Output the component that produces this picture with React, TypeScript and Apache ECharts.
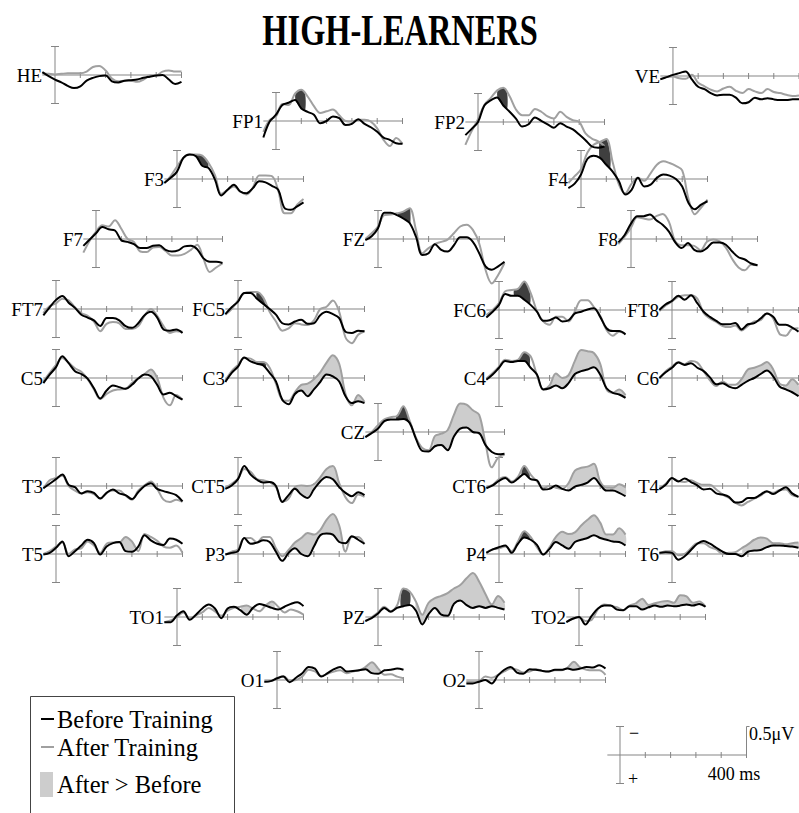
import React, { useEffect, useRef } from "react";
import * as echarts from "echarts";

// Time samples (ms) shared by every waveform
const TIMES = [-50, -25, 0, 25, 50, 75, 100, 125, 150, 175, 200, 225, 250, 275, 300, 325, 350, 375, 400, 425, 450, 475, 500];
const TICKS = [100, 200, 300, 400, 500];
const SCALE_TICKS = [100, 200, 300, 400];

// Amplitudes in microvolts (negative plotted upwards). B = before training, A = after training
const HE_B = [-0.05, 0.02, 0.08, 0.13, 0.19, 0.23, 0.2, 0.1, 0.05, 0.02, 0.01, 0.11, 0.13, 0.1, 0.09, 0.08, 0.05, 0.03, 0.01, 0, 0.08, 0.16, 0.12];
const HE_A = [-0.03, -0.02, -0.01, -0.02, -0.03, -0.03, -0.03, -0.06, -0.14, -0.16, -0.08, 0.06, 0.11, 0.1, 0.1, 0.12, 0.08, 0.01, 0.01, -0.06, -0.08, -0.06, -0.06];
const FP1_B = [0.29, 0.01, -0.11, -0.28, -0.32, -0.37, -0.22, -0.16, -0.11, 0.04, 0, -0.08, -0.05, 0.07, 0.05, -0.03, 0.05, 0.11, 0.19, 0.29, 0.33, 0.39, 0.4];
const FP1_A = [0.19, -0.02, -0.08, -0.3, -0.28, -0.48, -0.55, -0.43, -0.26, -0.14, -0.17, -0.2, -0.1, 0, 0.01, -0.02, -0.02, 0.01, 0.13, 0.33, 0.44, 0.3, 0.4];
const FP2_B = [0.23, 0.12, 0, -0.29, -0.38, -0.43, -0.29, -0.18, -0.06, 0.08, 0.04, -0.08, -0.02, 0.04, 0.1, 0.02, 0.08, 0.13, 0.22, 0.32, 0.43, 0.45, 0.43];
const FP2_A = [0.4, 0.16, -0.05, -0.3, -0.42, -0.55, -0.6, -0.45, -0.22, -0.12, -0.12, -0.23, -0.18, -0.1, -0.06, -0.18, -0.09, -0.03, 0, 0.2, 0.29, 0.34, 0.42];
const VE_B = [0.06, 0.02, -0.02, -0.05, -0.08, 0.06, 0.19, 0.23, 0.3, 0.34, 0.33, 0.33, 0.38, 0.48, 0.46, 0.38, 0.41, 0.39, 0.41, 0.42, 0.42, 0.41, 0.41];
const VE_A = [0.05, 0.02, 0.01, 0.04, 0.05, -0.02, 0.12, 0.18, 0.24, 0.27, 0.22, 0.19, 0.26, 0.3, 0.23, 0.27, 0.3, 0.23, 0.28, 0.3, 0.33, 0.35, 0.34];
const F3_B = [0.07, -0.02, -0.13, -0.37, -0.43, -0.4, -0.23, -0.19, 0.01, 0.29, 0.19, 0.1, 0.22, 0.25, 0.16, 0.04, 0.06, 0.12, 0.19, 0.51, 0.54, 0.48, 0.41];
const F3_A = [0.07, -0.05, -0.22, -0.37, -0.43, -0.43, -0.41, -0.28, -0.07, 0.26, 0.19, 0.13, 0.22, 0.27, 0.15, -0.06, -0.06, -0.05, 0.2, 0.6, 0.6, 0.45, 0.35];
const F4_B = [0.16, 0.08, -0.08, -0.35, -0.41, -0.37, -0.25, -0.13, 0.04, 0.27, 0.19, -0.02, 0.13, 0.1, -0.02, -0.08, -0.06, 0, 0.13, 0.42, 0.53, 0.45, 0.39];
const F4_A = [0.07, -0.05, -0.17, -0.46, -0.6, -0.65, -0.7, -0.3, 0.1, 0.25, 0.08, -0.02, 0.03, -0.1, -0.25, -0.31, -0.28, -0.23, -0.15, 0.35, 0.62, 0.5, 0.36];
const F7_B = [0.12, 0.01, -0.1, -0.21, -0.17, -0.15, 0.02, 0.05, 0.09, 0.16, 0.16, 0.12, 0.11, 0.19, 0.22, 0.2, 0.13, 0.12, 0.18, 0.34, 0.4, 0.4, 0.42];
const F7_A = [0.24, 0.03, -0.13, -0.24, -0.22, -0.33, -0.18, 0, 0.05, 0.22, 0.23, 0.15, 0.14, 0.21, 0.29, 0.29, 0.26, 0.19, 0.1, 0.35, 0.58, 0.5, 0.43];
const FZ_B = [0.02, -0.05, -0.19, -0.46, -0.46, -0.42, -0.36, -0.28, -0.04, 0.28, 0.25, 0.09, 0.19, 0.22, 0.11, -0.03, -0.03, 0.05, 0.25, 0.48, 0.54, 0.48, 0.4];
const FZ_A = [0, -0.1, -0.22, -0.42, -0.43, -0.45, -0.48, -0.54, -0.16, 0.25, 0.16, 0.09, 0.05, 0.01, -0.1, -0.22, -0.25, -0.16, 0.08, 0.54, 0.78, 0.63, 0.42];
const F8_B = [0.06, -0.07, -0.27, -0.4, -0.4, -0.43, -0.33, -0.25, -0.13, 0.06, 0.16, 0.07, 0.19, 0.22, 0.16, 0.06, 0.06, 0.1, 0.22, 0.32, 0.36, 0.43, 0.46];
const F8_A = [0.09, -0.04, -0.2, -0.38, -0.36, -0.34, -0.4, -0.44, -0.3, 0.04, 0.11, 0.11, 0.12, 0.2, 0.05, 0.01, 0.04, 0.15, 0.35, 0.5, 0.55, 0.45, 0.46];
const FT7_B = [0.11, -0.03, -0.16, -0.23, -0.11, -0.02, 0.1, 0.15, 0.2, 0.3, 0.16, 0.16, 0.2, 0.3, 0.33, 0.25, 0.11, 0.05, 0.15, 0.36, 0.38, 0.36, 0.42];
const FT7_A = [0.07, -0.05, -0.1, -0.18, -0.15, -0.03, 0.07, 0.12, 0.22, 0.39, 0.26, 0.23, 0.25, 0.35, 0.35, 0.3, 0.12, 0, 0.12, 0.3, 0.42, 0.39, 0.4];
const FC5_B = [0.09, -0.03, -0.13, -0.28, -0.28, -0.18, -0.09, 0, 0.1, 0.25, 0.27, 0.22, 0.19, 0.26, 0.25, 0.11, 0.05, 0.09, 0.16, 0.4, 0.42, 0.38, 0.39];
const FC5_A = [0.1, 0, -0.15, -0.28, -0.3, -0.3, -0.2, 0.05, 0.22, 0.38, 0.34, 0.25, 0.27, 0.28, 0.2, 0, -0.04, -0.15, 0.05, 0.5, 0.6, 0.45, 0.39];
const FC6_B = [0.13, 0.03, -0.09, -0.28, -0.25, -0.25, -0.18, -0.09, 0.03, 0.19, 0.18, 0.13, 0.2, 0.18, 0.06, 0.03, -0.01, -0.03, 0.12, 0.32, 0.37, 0.37, 0.43];
const FC6_A = [0.09, 0, -0.12, -0.33, -0.35, -0.37, -0.5, -0.3, 0.02, 0.2, 0.26, 0.12, 0.12, 0.2, 0.02, -0.17, -0.17, -0.05, 0.1, 0.35, 0.45, 0.38, 0.42];
const FT8_B = [0, -0.1, -0.16, -0.25, -0.18, -0.26, -0.12, 0.03, 0.12, 0.19, 0.25, 0.25, 0.23, 0.34, 0.25, 0.23, 0.15, 0.06, 0.12, 0.26, 0.26, 0.31, 0.38];
const FT8_A = [0.02, -0.08, -0.15, -0.23, -0.26, -0.26, -0.2, 0.05, 0.15, 0.21, 0.28, 0.3, 0.27, 0.36, 0.28, 0.2, 0.18, 0.06, 0.15, 0.42, 0.45, 0.33, 0.32];
const C5_B = [0.09, -0.06, -0.19, -0.38, -0.26, -0.12, -0.07, 0.01, 0.18, 0.36, 0.22, 0.13, 0.16, 0.19, 0.12, 0.01, -0.06, -0.03, 0.12, 0.29, 0.26, 0.32, 0.38];
const C5_A = [0.06, -0.09, -0.23, -0.35, -0.27, -0.17, -0.11, 0.02, 0.2, 0.37, 0.28, 0.22, 0.2, 0.19, 0.09, 0, -0.07, -0.15, 0, 0.35, 0.48, 0.3, 0.38];
const C3_B = [0.07, -0.09, -0.2, -0.36, -0.29, -0.25, -0.22, -0.09, 0.06, 0.38, 0.46, 0.28, 0.22, 0.32, 0.2, 0.07, -0.06, -0.03, 0.06, 0.32, 0.44, 0.41, 0.44];
const C3_A = [0.04, -0.12, -0.23, -0.35, -0.34, -0.28, -0.28, -0.18, 0.1, 0.38, 0.4, 0.25, 0.12, 0.1, 0.02, -0.1, -0.27, -0.4, -0.25, 0.28, 0.48, 0.3, 0.42];
const C4_B = [0.03, -0.06, -0.18, -0.3, -0.28, -0.3, -0.3, -0.18, -0.06, 0.2, 0.18, 0.13, 0.18, 0.09, -0.07, -0.12, -0.15, -0.19, -0.06, 0.18, 0.26, 0.29, 0.35];
const C4_A = [0.01, -0.09, -0.2, -0.32, -0.3, -0.32, -0.45, -0.38, -0.05, 0.2, 0.13, -0.08, 0, -0.05, -0.3, -0.49, -0.47, -0.44, -0.25, 0.2, 0.26, 0.2, 0.3];
const C6_B = [0, -0.1, -0.18, -0.27, -0.23, -0.26, -0.18, -0.12, -0.01, 0.11, 0.09, 0.15, 0.18, 0.12, 0.05, 0, -0.07, -0.13, -0.03, 0.15, 0.2, 0.25, 0.32];
const C6_A = [0.01, -0.12, -0.2, -0.28, -0.24, -0.3, -0.27, -0.12, 0.04, 0.14, 0.06, 0.12, 0.12, 0.02, -0.15, -0.18, -0.22, -0.28, -0.15, 0.1, 0.13, 0.02, 0.12];
const CZ_B = [0.09, 0.02, -0.06, -0.19, -0.22, -0.22, -0.23, -0.16, 0.12, 0.33, 0.34, 0.25, 0.23, 0.32, 0.08, -0.06, -0.08, 0, 0.02, 0.23, 0.35, 0.39, 0.38];
const CZ_A = [0.09, 0, -0.12, -0.22, -0.26, -0.28, -0.45, -0.2, 0.1, 0.28, 0.32, 0.07, 0.03, -0.03, -0.3, -0.5, -0.48, -0.38, -0.3, 0.2, 0.62, 0.45, 0.4];
const T3_B = [0.04, -0.04, -0.12, -0.2, -0.02, 0.02, 0.13, 0.09, 0.12, 0.22, 0.12, 0.06, 0.13, 0.16, 0.23, 0.11, 0, -0.05, 0.05, 0.09, 0.12, 0.16, 0.27];
const T3_A = [0.05, -0.1, -0.14, -0.18, 0, 0.08, 0.13, 0.11, 0.14, 0.22, 0.12, 0.08, 0.08, 0.17, 0.24, 0.08, -0.01, -0.08, 0.05, 0.24, 0.28, 0.24, 0.28];
const CT5_B = [0.05, -0.01, -0.12, -0.35, -0.2, -0.11, -0.06, -0.07, 0, 0.28, 0.16, 0.05, 0.15, 0.21, 0.06, -0.08, -0.16, -0.12, 0.02, 0.12, 0.18, 0.11, 0.16];
const CT5_A = [0.03, -0.04, -0.13, -0.3, -0.25, -0.12, -0.1, -0.07, 0.02, 0.27, 0.22, 0.02, -0.01, 0, -0.03, -0.15, -0.3, -0.35, -0.05, 0.2, 0.3, 0.15, 0.19];
const CT6_B = [0.04, -0.01, -0.09, -0.14, -0.06, -0.13, -0.21, -0.12, -0.1, 0.06, 0.05, -0.01, 0.05, 0.08, 0.01, -0.02, -0.06, -0.14, -0.02, 0.08, 0.08, 0.12, 0.18];
const CT6_A = [0.02, -0.02, -0.12, -0.16, -0.08, -0.16, -0.35, -0.2, -0.08, 0.04, 0, 0.03, 0.05, -0.05, -0.27, -0.32, -0.34, -0.39, -0.08, 0.03, 0.03, -0.03, 0.02];
const T4_B = [0.06, -0.02, -0.14, -0.08, -0.13, -0.07, -0.01, 0.06, 0.05, 0.13, 0.15, 0.19, 0.29, 0.28, 0.21, 0.21, 0.15, 0.09, 0.14, 0.08, 0.02, 0.13, 0.19];
const T4_A = [0.04, -0.04, -0.13, -0.09, -0.07, -0.1, -0.05, -0.02, -0.02, 0.06, 0.15, 0.21, 0.29, 0.34, 0.28, 0.22, 0.17, 0.1, 0.12, 0.07, 0.06, 0.16, 0.19];
const T5_B = [0.01, -0.02, -0.11, -0.22, 0.04, -0.05, -0.15, -0.25, -0.19, 0.01, -0.13, -0.19, -0.21, -0.05, -0.04, -0.13, -0.33, -0.24, -0.18, -0.16, -0.27, -0.25, -0.18];
const T5_A = [0, -0.05, -0.13, -0.2, 0, -0.08, -0.1, -0.22, -0.15, -0.02, -0.18, -0.2, -0.2, -0.3, -0.22, -0.05, -0.35, -0.3, -0.23, -0.13, -0.11, -0.15, -0.02];
const P3_B = [0.01, -0.02, -0.05, -0.28, -0.18, -0.2, -0.24, -0.21, -0.04, 0.12, -0.02, -0.1, 0, 0.04, -0.13, -0.33, -0.36, -0.34, -0.21, -0.19, -0.31, -0.25, -0.18];
const P3_A = [0.01, -0.04, -0.08, -0.28, -0.28, -0.2, -0.3, -0.3, -0.1, 0.04, -0.07, -0.2, -0.28, -0.37, -0.34, -0.42, -0.6, -0.7, -0.5, -0.04, -0.3, -0.3, -0.17];
const P4_B = [-0.02, -0.08, -0.12, -0.15, -0.02, -0.18, -0.29, -0.25, -0.16, 0.01, -0.09, -0.21, -0.15, -0.09, -0.21, -0.25, -0.28, -0.33, -0.28, -0.25, -0.22, -0.21, -0.15];
const P4_A = [-0.03, -0.08, -0.1, -0.13, -0.05, -0.22, -0.4, -0.3, -0.12, 0.01, -0.12, -0.3, -0.39, -0.35, -0.38, -0.5, -0.6, -0.68, -0.55, -0.34, -0.34, -0.45, -0.34];
const T6_B = [-0.02, -0.03, -0.02, 0.1, 0.04, -0.07, -0.18, -0.23, -0.18, -0.11, -0.04, 0, 0, 0.04, -0.04, -0.06, -0.07, -0.12, -0.15, -0.15, -0.14, -0.13, -0.11];
const T6_A = [0, -0.05, -0.05, 0.02, 0, -0.1, -0.19, -0.19, -0.12, -0.08, 0, -0.02, -0.03, -0.1, -0.17, -0.25, -0.29, -0.27, -0.19, -0.19, -0.17, -0.19, -0.2];
const TO1_B = [0.09, 0.09, -0.03, -0.1, 0.05, -0.04, -0.15, -0.22, -0.15, 0.02, -0.15, -0.18, -0.12, -0.04, -0.16, -0.23, -0.2, -0.16, -0.13, -0.18, -0.23, -0.26, -0.19];
const TO1_A = [0.09, 0.06, 0, -0.08, 0.02, -0.03, -0.08, -0.16, -0.1, -0.02, -0.11, -0.16, -0.18, -0.2, -0.15, -0.1, -0.2, -0.27, -0.18, -0.08, -0.13, -0.1, -0.04];
const PZ_B = [0.07, 0.02, -0.06, -0.16, -0.09, -0.16, -0.19, -0.21, -0.11, 0.13, -0.05, -0.16, -0.04, -0.02, -0.23, -0.29, -0.21, -0.16, -0.19, -0.16, -0.19, -0.16, -0.13];
const PZ_A = [0.08, 0, -0.08, -0.18, -0.1, -0.2, -0.5, -0.45, -0.27, -0.04, -0.25, -0.33, -0.37, -0.42, -0.5, -0.56, -0.68, -0.77, -0.62, -0.4, -0.22, -0.37, -0.25];
const TO2_B = [0.09, 0.03, 0, 0.13, -0.02, -0.15, -0.2, -0.2, -0.13, -0.12, -0.19, -0.19, -0.13, -0.17, -0.2, -0.18, -0.2, -0.19, -0.2, -0.22, -0.2, -0.23, -0.18];
const TO2_A = [0.09, 0.03, 0, 0.07, 0.05, -0.14, -0.22, -0.2, -0.17, -0.12, -0.2, -0.24, -0.32, -0.21, -0.24, -0.27, -0.28, -0.25, -0.38, -0.36, -0.25, -0.27, -0.18];
const O1_B = [0.03, 0.02, -0.03, -0.06, 0.04, -0.04, -0.12, -0.23, -0.2, -0.06, -0.12, -0.19, -0.23, -0.15, -0.16, -0.17, -0.19, -0.12, -0.11, -0.17, -0.18, -0.2, -0.18];
const O1_A = [0.03, 0.02, -0.02, -0.07, 0.01, 0, -0.06, -0.18, -0.15, -0.07, -0.11, -0.15, -0.17, -0.12, -0.15, -0.17, -0.23, -0.31, -0.2, -0.09, -0.1, -0.06, -0.03];
const O2_B = [0.06, 0.06, 0.03, 0, 0.06, -0.08, -0.18, -0.23, -0.13, -0.11, -0.19, -0.18, -0.16, -0.15, -0.18, -0.18, -0.2, -0.18, -0.2, -0.23, -0.22, -0.26, -0.2];
const O2_A = [0.03, 0.03, 0.02, -0.06, -0.04, -0.09, -0.15, -0.2, -0.18, -0.13, -0.15, -0.19, -0.16, -0.15, -0.17, -0.17, -0.22, -0.32, -0.22, -0.18, -0.17, -0.17, -0.09];

// Time windows (ms) of the shaded differences
const EARLY_WINDOWS: Record<string, number[][]> = {
  FP1: [[78, 115]], FP2: [[78, 115]], F3: [[75, 122]], F4: [[72, 115]], FZ: [[80, 128]],
  FC5: [[75, 110]], C3: [[75, 110]], FC6: [[60, 122]], C4: [[75, 120]], CZ: [[72, 122]],
  CT6: [[90, 120]], P4: [[80, 120]], PZ: [[90, 125]],
};
const LATE_WINDOWS: Record<string, number[][]> = {
  C5: [[350, 410]], C3: [[215, 415], [460, 495]], C4: [[200, 410], [465, 500]], C6: [[260, 410], [440, 500]],
  CZ: [[220, 420]], CT5: [[230, 400]], T5: [[255, 310]], P3: [[190, 415]], CT6: [[270, 400], [440, 500]],
  P4: [[190, 500]], T6: [[280, 410], [440, 500]], TO1: [[255, 300], [340, 385]], PZ: [[150, 500]],
  TO2: [[225, 290], [300, 460]], O1: [[340, 410]], O2: [[340, 400]],
};

// Layout: name, origin (pixel) of each electrode panel, and its waveforms
const PANELS: { name: string; x: number; y: number; b: number[]; a: number[] }[] = [
  { name: "HE", x: 55, y: 75, b: HE_B, a: HE_A },
  { name: "FP1", x: 276, y: 121, b: FP1_B, a: FP1_A },
  { name: "FP2", x: 478, y: 122, b: FP2_B, a: FP2_A },
  { name: "VE", x: 673, y: 76, b: VE_B, a: VE_A },
  { name: "F3", x: 177, y: 179, b: F3_B, a: F3_A },
  { name: "F4", x: 581, y: 179, b: F4_B, a: F4_A },
  { name: "F7", x: 96, y: 239, b: F7_B, a: F7_A },
  { name: "FZ", x: 378, y: 239, b: FZ_B, a: FZ_A },
  { name: "F8", x: 631, y: 239, b: F8_B, a: F8_A },
  { name: "FT7", x: 56, y: 309, b: FT7_B, a: FT7_A },
  { name: "FC5", x: 238, y: 309, b: FC5_B, a: FC5_A },
  { name: "FC6", x: 499, y: 310, b: FC6_B, a: FC6_A },
  { name: "FT8", x: 672, y: 310, b: FT8_B, a: FT8_A },
  { name: "C5", x: 56, y: 378, b: C5_B, a: C5_A },
  { name: "C3", x: 238, y: 378, b: C3_B, a: C3_A },
  { name: "C4", x: 499, y: 378, b: C4_B, a: C4_A },
  { name: "C6", x: 672, y: 378, b: C6_B, a: C6_A },
  { name: "CZ", x: 378, y: 432, b: CZ_B, a: CZ_A },
  { name: "T3", x: 56, y: 486, b: T3_B, a: T3_A },
  { name: "CT5", x: 238, y: 486, b: CT5_B, a: CT5_A },
  { name: "CT6", x: 499, y: 486, b: CT6_B, a: CT6_A },
  { name: "T4", x: 672, y: 486, b: T4_B, a: T4_A },
  { name: "T5", x: 56, y: 554, b: T5_B, a: T5_A },
  { name: "P3", x: 238, y: 554, b: P3_B, a: P3_A },
  { name: "P4", x: 499, y: 554, b: P4_B, a: P4_A },
  { name: "T6", x: 672, y: 554, b: T6_B, a: T6_A },
  { name: "TO1", x: 177, y: 617, b: TO1_B, a: TO1_A },
  { name: "PZ", x: 378, y: 617, b: PZ_B, a: PZ_A },
  { name: "TO2", x: 579, y: 617, b: TO2_B, a: TO2_A },
  { name: "O1", x: 277, y: 680, b: O1_B, a: O1_A },
  { name: "O2", x: 479, y: 680, b: O2_B, a: O2_A },
];
const SCALE_ORIGIN = { x: 620, y: 755 };

const PX_PER_MS = 0.253;
const PX_PER_UV = 57;
const FONT = '"Liberation Serif", "Times New Roman", serif';
const AXIS_COLOR = "#858585";
const BEFORE_COLOR = "#000000";
const AFTER_COLOR = "#a0a0a0";
const LIGHT_FILL = "#cdcdcd";
const DARK_FILL = "#3f3f3f";

function valueAt(arr: number[], t: number) {
  const step = TIMES[1] - TIMES[0];
  let k = Math.floor((t - TIMES[0]) / step);
  k = Math.max(0, Math.min(TIMES.length - 2, k));
  const f = (t - TIMES[k]) / step;
  return arr[k] + (arr[k + 1] - arr[k]) * f;
}

function gridFor(x: number, y: number) {
  return {
    left: x - 50 * PX_PER_MS,
    top: y - PX_PER_UV,
    width: 550 * PX_PER_MS,
    height: 2 * PX_PER_UV,
  };
}

function frameSeries(i: number, isScale: boolean) {
  return {
    type: "custom",
    xAxisIndex: i,
    yAxisIndex: i,
    silent: true,
    z: 1,
    data: [[0, 0]],
    renderItem: (_p: any, api: any) => {
      const st = { stroke: AXIS_COLOR, lineWidth: 1, fill: null };
      const l = api.coord([-50, 0]);
      const r = api.coord([500, 0]);
      const top = api.coord([0, -0.5]);
      const bot = api.coord([0, 0.5]);
      const children: any[] = [
        { type: "line", shape: { x1: l[0], y1: l[1], x2: r[0], y2: r[1] }, style: st },
        { type: "line", shape: { x1: top[0], y1: top[1], x2: bot[0], y2: bot[1] }, style: st },
        { type: "line", shape: { x1: top[0] - 4, y1: top[1], x2: top[0] + 4, y2: top[1] }, style: st },
        { type: "line", shape: { x1: bot[0] - 4, y1: bot[1], x2: bot[0] + 4, y2: bot[1] }, style: st },
      ];
      const ticks = isScale ? SCALE_TICKS : TICKS;
      ticks.forEach((t) => {
        const p = api.coord([t, 0]);
        children.push({ type: "line", shape: { x1: p[0], y1: p[1] - 3, x2: p[0], y2: p[1] + 3 }, style: st });
      });
      if (isScale) {
        const e0 = api.coord([500, -0.5]);
        const e1 = api.coord([500, 0]);
        children.push({ type: "line", shape: { x1: e0[0], y1: e0[1], x2: e1[0], y2: e1[1] + 3 }, style: st });
        children.push({ type: "line", shape: { x1: e0[0], y1: e0[1], x2: e0[0] + 3, y2: e0[1] }, style: st });
      }
      return { type: "group", children };
    },
  };
}

function fillSeries(i: number, before: number[], after: number[], win: number[], color: string) {
  return {
    type: "custom",
    xAxisIndex: i,
    yAxisIndex: i,
    silent: true,
    z: 2,
    data: [[win[0], 0]],
    renderItem: (_p: any, api: any) => {
      const [a, b] = win;
      const ts = [a, ...TIMES.filter((t) => t > a && t < b), b];
      const pts: number[][] = [];
      ts.forEach((t) => pts.push(api.coord([t, valueAt(after, t)])));
      ts.slice().reverse().forEach((t) => pts.push(api.coord([t, valueAt(before, t)])));
      return { type: "polygon", shape: { points: pts, smooth: 0.3 }, style: { fill: color, stroke: null } };
    },
  };
}

function txt(text: string, x: number, y: number, size: number, align = "left", weight = "normal", scaleX = 1) {
  return {
    type: "text",
    x,
    y,
    scaleX,
    silent: true,
    style: {
      text,
      fontSize: size,
      fontFamily: FONT,
      fontWeight: weight,
      fill: "#000",
      align,
      textAlign: align,
      verticalAlign: "middle",
      textVerticalAlign: "middle",
    },
  };
}

function buildOption() {
  const grid: any[] = [];
  const xAxis: any[] = [];
  const yAxis: any[] = [];
  const series: any[] = [];
  const graphic: any[] = [];

  PANELS.forEach((p, i) => {
    grid.push(gridFor(p.x, p.y));
    xAxis.push({ gridIndex: i, type: "value", min: -50, max: 500, show: false });
    yAxis.push({ gridIndex: i, type: "value", min: -1, max: 1, inverse: true, show: false });
    series.push(frameSeries(i, false));
    (LATE_WINDOWS[p.name] || []).forEach((w) => series.push(fillSeries(i, p.b, p.a, w, LIGHT_FILL)));
    (EARLY_WINDOWS[p.name] || []).forEach((w) => series.push(fillSeries(i, p.b, p.a, w, DARK_FILL)));
    series.push({
      type: "line", name: "After Training", xAxisIndex: i, yAxisIndex: i, silent: true, z: 3,
      data: TIMES.map((t, k) => [t, p.a[k]]), smooth: 0.35, showSymbol: false, symbol: "none",
      lineStyle: { color: AFTER_COLOR, width: 2 },
    });
    series.push({
      type: "line", name: "Before Training", xAxisIndex: i, yAxisIndex: i, silent: true, z: 4,
      data: TIMES.map((t, k) => [t, p.b[k]]), smooth: 0.35, showSymbol: false, symbol: "none",
      lineStyle: { color: BEFORE_COLOR, width: 2 },
    });
    graphic.push(txt(p.name, p.x - 13, p.y, 19, "right"));
  });

  // scale bar panel
  const si = PANELS.length;
  grid.push(gridFor(SCALE_ORIGIN.x, SCALE_ORIGIN.y));
  xAxis.push({ gridIndex: si, type: "value", min: -50, max: 500, show: false });
  yAxis.push({ gridIndex: si, type: "value", min: -1, max: 1, inverse: true, show: false });
  series.push(frameSeries(si, true));
  graphic.push(txt("−", 629, 733, 18));
  graphic.push(txt("+", 628, 779, 18));
  graphic.push(txt("0.5μV", 749, 734, 18));
  graphic.push(txt("400 ms", 734, 774, 18, "center"));

  // title
  graphic.push(txt("HIGH-LEARNERS", 400, 30, 45, "center", "bold", 0.72));

  // legend
  graphic.push({ type: "rect", silent: true, shape: { x: 30.5, y: 696.5, width: 204, height: 130 }, style: { fill: "none", stroke: "#444", lineWidth: 1 } });
  graphic.push({ type: "line", silent: true, shape: { x1: 41, y1: 719, x2: 54, y2: 719 }, style: { stroke: BEFORE_COLOR, lineWidth: 2 } });
  graphic.push(txt("Before Training", 57, 719, 24.5));
  graphic.push({ type: "line", silent: true, shape: { x1: 41, y1: 747, x2: 54, y2: 747 }, style: { stroke: AFTER_COLOR, lineWidth: 2 } });
  graphic.push(txt("After Training", 57, 747, 24.5));
  graphic.push({ type: "rect", silent: true, shape: { x: 40, y: 772, width: 13, height: 25 }, style: { fill: LIGHT_FILL } });
  graphic.push(txt("After > Before", 57, 784, 24.5));

  return {
    animation: false,
    backgroundColor: "#ffffff",
    grid,
    xAxis,
    yAxis,
    series,
    graphic,
  };
}

export default function App() {
  const ref = useRef<HTMLDivElement>(null);
  useEffect(() => {
    if (!ref.current) return;
    const chart = echarts.init(ref.current, null, { renderer: "svg" });
    chart.setOption(buildOption() as any);
    return () => chart.dispose();
  }, []);
  return (
    <div
      ref={ref}
      style={{ position: "absolute", left: 0, top: 0, width: 799, height: 813, background: "#fff" }}
    />
  );
}
